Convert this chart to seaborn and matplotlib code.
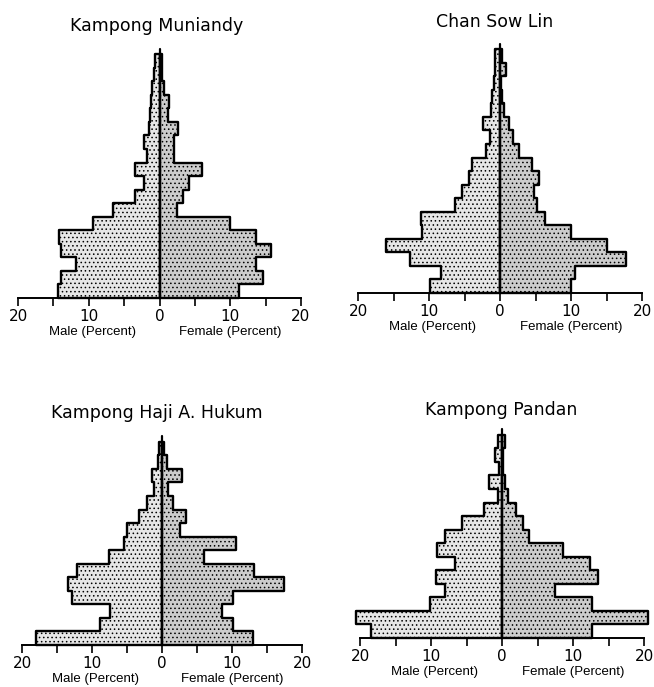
import numpy as np
import pandas as pd
import matplotlib
matplotlib.use("Agg")
import matplotlib.pyplot as plt
import seaborn as sns

sns.set_style("white")
plt.rcParams["font.family"] = ["DejaVu Sans"]
plt.rcParams["hatch.linewidth"] = 0.6
plt.rcParams["text.color"] = "black"
plt.rcParams["xtick.color"] = "black"
plt.rcParams["xtick.labelcolor"] = "black"

# percent of population per five-year age group, youngest group first
muniandy_male = [14.4, 13.9, 11.8, 13.9, 14.2, 9.4, 6.6, 3.5, 2.2, 3.5, 1.7, 2.2, 1.5, 1.4, 1.2, 1.0, 0.8, 0.6]
muniandy_female = [11.3, 14.6, 13.7, 15.8, 13.6, 10.0, 2.5, 3.3, 4.2, 6.0, 2.1, 2.0, 2.6, 1.2, 1.3, 0.6, 0.4, 0.3]

chan_male = [9.8, 8.3, 12.7, 16.0, 11.0, 11.1, 6.4, 5.4, 4.4, 4.0, 2.0, 1.4, 2.4, 1.3, 1.1, 0.9, 0.7, 0.7]
chan_female = [10.0, 10.5, 17.8, 15.0, 10.0, 6.3, 5.2, 4.8, 5.5, 4.5, 2.7, 1.9, 1.3, 0.6, 0.3, 0.2, 0.8, 0.3]

haji_male = [18.0, 8.9, 7.5, 12.9, 13.5, 12.1, 7.6, 5.5, 5.0, 3.3, 2.1, 1.1, 1.4, 0.6, 0.4]
haji_female = [13.0, 10.1, 8.6, 10.1, 17.4, 13.1, 6.0, 10.6, 2.6, 3.4, 1.6, 0.9, 2.8, 0.7, 0.3]

pandan_male = [18.5, 20.5, 10.1, 8.0, 9.3, 6.6, 9.2, 8.0, 5.6, 2.5, 0.6, 1.8, 0.4, 1.0, 0.6]
pandan_female = [12.7, 20.5, 12.7, 7.5, 13.5, 12.4, 8.6, 3.8, 2.9, 2.0, 0.8, 0.4, 0.2, 0.1, 0.4]

titles = ["Kampong Muniandy", "Chan Sow Lin", "Kampong Haji A. Hukum", "Kampong Pandan"]
males = [muniandy_male, chan_male, haji_male, pandan_male]
females = [muniandy_female, chan_female, haji_female, pandan_female]

W, H = 654, 687
# left px, right px, baseline px, title x px, title y px
frames = [(18, 301, 298, 157, 26),
          (358, 642, 293, 495, 22),
          (22, 302, 645, 157, 413),
          (360, 644, 638, 501, 410)]
group_px = 13.55

fig = plt.figure(figsize=(W / 100, H / 100), dpi=100)

for title, male, female, (l, r, base, tx, ty) in zip(titles, males, females, frames):
    n = len(male)
    ax = fig.add_axes([l / W, 1 - base / H, (r - l) / W, n * group_px / H])
    df = pd.DataFrame({"group": np.arange(n) + 0.5,
                       "male": -np.array(male), "female": np.array(female)})
    sns.histplot(data=df, y="group", weights="male", binwidth=1, binrange=(0, n),
                 element="step", fill=True, ax=ax, facecolor="#e6e6e6",
                 edgecolor="black", linewidth=1.7, hatch="....")
    sns.histplot(data=df, y="group", weights="female", binwidth=1, binrange=(0, n),
                 element="step", fill=True, ax=ax, facecolor="#cccccc",
                 edgecolor="black", linewidth=1.7, hatch="....")
    for c in ax.collections:
        c.set_clip_on(False)
    ax.plot([0, 0], [0, n + 0.4], color="black", lw=1.6, clip_on=False)

    ax.set_xlim(-20, 20)
    ax.set_ylim(0, n)
    sns.despine(ax=ax, left=True)
    ax.spines["bottom"].set_color("black")
    ax.spines["bottom"].set_linewidth(1.4)
    ax.set_yticks([])
    ax.set_xticks([-20, -10, 0, 10, 20])
    ax.set_xticklabels(["20", "10", "0", "10", "20"], fontsize=11)
    ax.set_xticks([-15, -5, 5, 15], minor=True)
    ax.tick_params(axis="x", which="both", direction="out", length=6, width=1.2,
                   color="black", labelcolor="black", pad=2, bottom=True)
    ax.set_xlabel("")
    ax.set_ylabel("")

    lab_y = -34 / (n * group_px)
    ax.text(-9.5, lab_y, "Male (Percent)", transform=ax.get_xaxis_transform(),
            ha="center", va="center", fontsize=9.5, family="Liberation Sans")
    ax.text(10, lab_y, "Female (Percent)", transform=ax.get_xaxis_transform(),
            ha="center", va="center", fontsize=9.5, family="Liberation Sans")

    fig.text(tx / W, 1 - ty / H, title, ha="center", va="center", fontsize=12.5)

fig.savefig("out.png", dpi=100)
